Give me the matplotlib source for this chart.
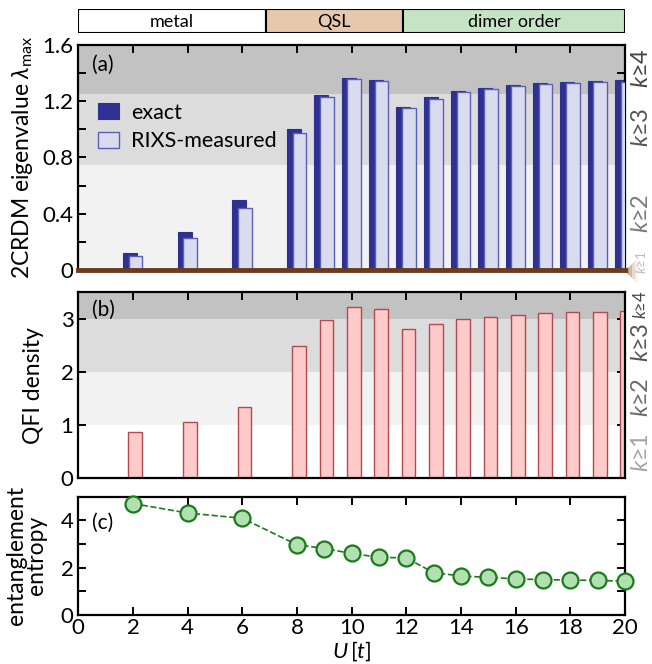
import numpy as np
import matplotlib
matplotlib.use('Agg')
import matplotlib.pyplot as plt
from matplotlib.patches import Rectangle, Polygon

plt.rcParams['font.family'] = ['Lato', 'DejaVu Sans']
plt.rcParams['mathtext.fontset'] = 'custom'
plt.rcParams['mathtext.rm'] = 'Lato'
plt.rcParams['mathtext.it'] = 'Lato:italic'

# data
U = [2, 4, 6, 8, 9, 10, 11, 12, 13, 14, 15, 16, 17, 18, 19, 20]
lam_exact = [0.12, 0.27, 0.50, 1.00, 1.245, 1.367, 1.351, 1.159, 1.228, 1.273,
             1.296, 1.313, 1.327, 1.337, 1.342, 1.349]
lam_rixs = [0.10, 0.225, 0.44, 0.976, 1.228, 1.356, 1.342, 1.150, 1.218, 1.263,
            1.289, 1.306, 1.320, 1.330, 1.337, 1.340]
qfi = [0.86, 1.06, 1.33, 2.48, 2.975, 3.22, 3.19, 2.81, 2.91, 2.99, 3.04, 3.08,
       3.11, 3.13, 3.13, 3.15]
entropy = [4.71, 4.31, 4.09, 2.97, 2.81, 2.60, 2.44, 2.41, 1.79, 1.65, 1.59, 1.53,
           1.49, 1.48, 1.46, 1.43]
phases = ['metal', 'QSL', 'dimer order']
phase_edges = [0, 6.86, 11.87, 20]
phase_colors = ['white', '#e6c9ad', '#c5e4c5']

U = np.array(U)
W, H = 652, 664
fig = plt.figure(figsize=(W / 100, H / 100), dpi=100)

def box(l, t, r, b):
    return [l / W, 1 - b / H, (r - l) / W, (b - t) / H]

L, R = 78.3, 625
ax_ph = fig.add_axes(box(L, 9.3, R, 33.3))
ax_a = fig.add_axes(box(L, 45, R, 270))
ax_b = fig.add_axes(box(L, 292.3, R, 478))
ax_c = fig.add_axes(box(L, 496.7, R, 615))

# phase bar
ax_ph.set_xlim(0, 20)
ax_ph.set_ylim(0, 1)
for i in range(3):
    ax_ph.add_patch(Rectangle((phase_edges[i], 0), phase_edges[i + 1] - phase_edges[i], 1,
                              facecolor=phase_colors[i], edgecolor='black', lw=1.5))
    ax_ph.text((phase_edges[i] + phase_edges[i + 1]) / 2, 0.48, phases[i],
               ha='center', va='center', fontsize=13)
ax_ph.axis('off')

tick_kw = dict(direction='in', top=True, right=True, length=6, width=1.4)
for ax in (ax_a, ax_b, ax_c):
    ax.set_xlim(0, 20)
    ax.set_xticks(np.arange(0, 21, 2))
    ax.tick_params(which='both', labelsize=16, **tick_kw)
    ax.tick_params(which='minor', length=6, width=1.4)
    for s in ax.spines.values():
        s.set_linewidth(1.6)

# (a)
ax_a.axhspan(0, 0.75, color='#f2f2f2', lw=0, zorder=0)
ax_a.axhspan(0.75, 1.25, color='#dcdcdc', lw=0, zorder=0)
ax_a.axhspan(1.25, 1.6, color='#c2c2c2', lw=0, zorder=0)
ax_a.bar(U - 0.11, lam_exact, width=0.52, color='#2e3192', edgecolor='#2e3192',
         lw=0.8, label='exact', zorder=2)
ax_a.bar(U + 0.09, lam_rixs, width=0.50, color='#d9dbef', edgecolor='#5b60b5',
         lw=1.0, label='RIXS-measured', zorder=3)
ax_a.axhline(0, color='#6b3b1f', lw=3.5, zorder=4, clip_on=False)
ax_a.set_ylim(0, 1.6)
ax_a.set_yticks([0, 0.4, 0.8, 1.2, 1.6])
ax_a.set_yticklabels(['0', '0.4', '0.8', '1.2', '1.6'])
ax_a.set_yticks(np.arange(0.2, 1.6, 0.4), minor=True)
ax_a.tick_params(labelbottom=False)
ax_a.set_ylabel(r'2CRDM eigenvalue $\lambda_{\rm max}$', fontsize=16.5, labelpad=5)
ax_a.text(0.025, 0.955, '(a)', transform=ax_a.transAxes, fontsize=15, va='top')
ax_a.legend(loc='upper left', bbox_to_anchor=(0.0, 0.83), frameon=False, fontsize=15.5,
            handlelength=1.0, handleheight=0.8, handletextpad=0.55, labelspacing=0.4)

# brown fan at the right end of the zero line
for k, a in enumerate([0.35, 0.25, 0.15, 0.08]):
    d = 4 + k * 3
    ax_a.add_patch(Polygon([[625 / W, 1 - 271 / H], [(625 + d) / W, 1 - (271 - 4 - k * 3) / H],
                            [(625 + d) / W, 1 - (271 + 4 + k * 3) / H]],
                           closed=True, transform=fig.transFigure, color='#8a5a3a',
                           alpha=a, lw=0, clip_on=False))

# (b)
ax_b.axhspan(1, 2, color='#f2f2f2', lw=0, zorder=0)
ax_b.axhspan(2, 3, color='#dcdcdc', lw=0, zorder=0)
ax_b.axhspan(3, 3.5, color='#c2c2c2', lw=0, zorder=0)
ax_b.bar(U + 0.08, qfi, width=0.5, color='#ffcaca', edgecolor='#b44a4e', lw=1.0, zorder=2)
ax_b.set_ylim(0, 3.5)
ax_b.set_yticks([0, 1, 2, 3])
ax_b.tick_params(labelbottom=False)
ax_b.set_ylabel('QFI density', fontsize=16.5, labelpad=12)
ax_b.text(0.025, 0.96, '(b)', transform=ax_b.transAxes, fontsize=15, va='top')

# (c)
ax_c.plot(U, entropy, ls='--', color='#1c7a1c', lw=1.2, marker='o', ms=11.5,
          mfc='#b2e0b0', mec='#1c7a1c', mew=1.6, clip_on=False, zorder=3)
ax_c.set_ylim(0, 5)
ax_c.set_yticks([0, 2, 4])
ax_c.set_yticks([1, 3], minor=True)
ax_c.tick_params(axis='x', pad=2)
ax_c.set_ylabel('entanglement\nentropy', fontsize=16.5, labelpad=10, linespacing=0.9)
ax_c.text(0.025, 0.86, '(c)', transform=ax_c.transAxes, fontsize=15, va='top')
fig.text((L + R) / 2 / W, 1 - 651 / H, r'$U\,[t]$', ha='center', va='center', fontsize=16)

# right-hand k labels
klabels = [('k≥4', 68, '#454545', 17), ('k≥3', 127, '#555555', 17),
           ('k≥2', 213, '#7a7a7a', 17), ('k≥1', 262, '#bdbdbd', 10),
           ('k≥4', 305, '#454545', 12), ('k≥3', 342, '#555555', 17),
           ('k≥2', 397, '#6a6a6a', 17), ('k≥1', 452, '#a5a5a5', 17)]
for s, y, c, fs in klabels:
    fig.text(641 / W, 1 - y / H, r'$k$' + s[1:], rotation=90, ha='center', va='center',
             color=c, fontsize=fs)

fig.savefig('out.png', dpi=100)
